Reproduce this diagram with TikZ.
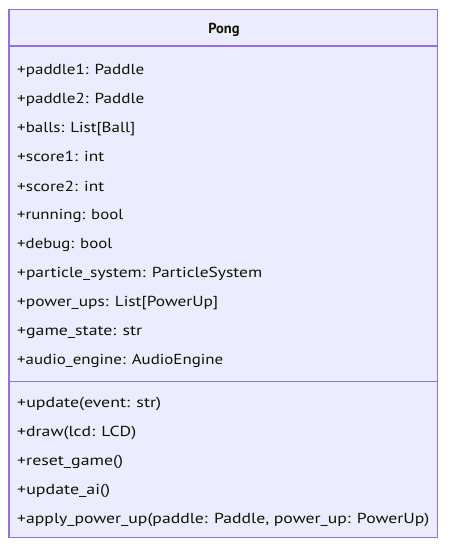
\documentclass[tikz,border=0pt]{standalone}
\usepackage{fontspec}
\usepackage{graphicx}
\setmainfont{PT Sans}
\definecolor{boxfill}{RGB}{236,236,255}
\definecolor{boxline}{RGB}{147,112,219}
\definecolor{txt}{RGB}{19,19,0}
\newcommand{\fitw}[2]{\resizebox{#1pt}{\height}{#2}}
\begin{document}
\begin{tikzpicture}[x=1pt,y=-1pt,
  member/.style={anchor=base west,inner sep=0pt,font=\fontsize{14.5}{16}\selectfont,text=txt},
  title/.style={anchor=base,inner sep=0pt,font=\bfseries\fontsize{14.5}{16}\selectfont,text=txt},
  frame/.style={draw=boxline,line width=1.2pt}]
\useasboundingbox (0,0) rectangle (449,548);
\draw[frame,fill=boxfill] (9,9.5) rectangle (437.5,537.5);
\draw[frame] (9,46) -- (437.5,46);
\draw[frame] (9,381.5) -- (437.5,381.5);
\node[title] (t) at (224,34) {Pong};
\node[member] (a1) at (17,75) {\fitw{127}{+paddle1: Paddle}};
\node[member] (a2) at (17,104) {\fitw{127}{+paddle2: Paddle}};
\node[member] (a3) at (17,133) {\fitw{118}{+balls: List[Ball]}};
\node[member] (a4) at (17,162) {\fitw{87}{+score1: int}};
\node[member] (a5) at (17,191) {\fitw{87}{+score2: int}};
\node[member] (a6) at (17,219) {\fitw{106}{+running: bool}};
\node[member] (a7) at (17,248) {\fitw{95}{+debug: bool}};
\node[member] (a8) at (17,277) {\fitw{245}{+particle\_system: ParticleSystem}};
\node[member] (a9) at (17,306) {\fitw{201}{+power\_ups: List[PowerUp]}};
\node[member] (a10) at (17,335) {\fitw{125}{+game\_state: str}};
\node[member] (a11) at (17,364) {\fitw{206}{+audio\_engine: AudioEngine}};
\node[member] (m1) at (17,407) {\fitw{144}{+update(event: str)}};
\node[member] (m2) at (17,436) {\fitw{119}{+draw(lcd: LCD)}};
\node[member] (m3) at (17,465) {\fitw{106}{+reset\_game()}};
\node[member] (m4) at (17,494) {\fitw{93}{+update\_ai()}};
\node[member] (m5) at (17,523) {\fitw{412}{+apply\_power\_up(paddle: Paddle, power\_up: PowerUp)}};
\end{tikzpicture}
\end{document}
